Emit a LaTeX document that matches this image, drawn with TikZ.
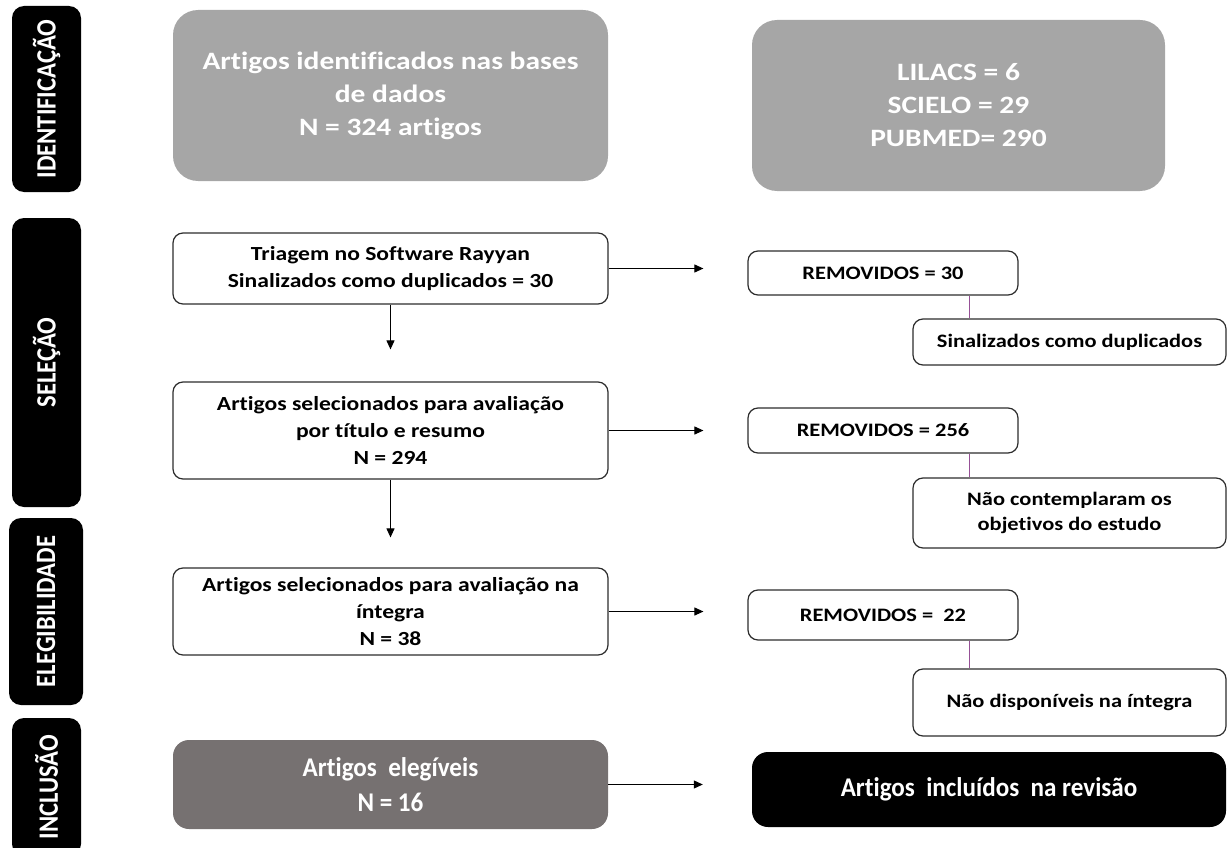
\documentclass[tikz,border=0pt]{standalone}
\usepackage{fontspec}
\newfontfamily\boxfont{Carlito}[FakeStretch=1.18, Ligatures=NoCommon]
\newfontfamily\barfont{Carlito}[FakeStretch=0.88, Ligatures=NoCommon]
\newfontfamily\endfont{Carlito}[FakeStretch=0.93, Ligatures=NoCommon]
\usepackage{tikz}
\usetikzlibrary{calc, arrows.meta}
\usepackage{xcolor}
\definecolor{idgrey}{RGB}{166,166,166}
\definecolor{elgrey}{RGB}{118,113,113}
\definecolor{linkpurple}{RGB}{150,80,150}
\definecolor{edgegrey}{RGB}{45,45,45}

\begin{document}
\begin{tikzpicture}[x=1pt, y=-1pt,
    phase/.style={fill=black, rounded corners=12pt, text=white, rotate=90, inner sep=0pt,
      font=\barfont\bfseries\fontsize{28}{30}\selectfont},
    greybox/.style={fill=idgrey, rounded corners=25pt, text=white, align=center, inner sep=0pt,
      font=\boxfont\bfseries\fontsize{25}{33}\selectfont},
    flowbox/.style={draw=edgegrey, line width=1.2pt, rounded corners=10pt, fill=white, align=center,
      inner sep=0pt, minimum width=435pt, font=\boxfont\bfseries\fontsize{20}{27}\selectfont},
    sidebox/.style={flowbox, minimum width=270pt, font=\boxfont\bfseries\fontsize{19}{25}\selectfont},
    endbox/.style={rounded corners=16pt, text=white, align=center, inner sep=0pt,
      font=\endfont\bfseries\fontsize{27}{35}\selectfont},
    flowarrow/.style={-{Triangle[length=9pt, width=8pt]}, line width=1pt},
    linkline/.style={linkpurple, line width=0.9pt}]
  \useasboundingbox (0,0) rectangle (1229,848);
  % phases
  \node[phase, minimum width=186pt, minimum height=69pt] (phid) at (46.5,99) {IDENTIFICAÇÃO};
  \node[phase, minimum width=289pt, minimum height=69pt] (phsel) at (46.5,362.5) {SELEÇÃO};
  \node[phase, minimum width=187pt, minimum height=74pt] (phel) at (46,611.5) {ELEGIBILIDADE};
  \node[phase, minimum width=138pt, minimum height=69pt] (phinc) at (46.5,787) {INCLUSÃO};
  % identification
  \node[greybox, minimum width=435pt, minimum height=171pt] (found) at (390.5,95.5)
    {Artigos identificados nas bases\\de dados\\N = 324 artigos};
  \node[greybox, minimum width=413pt, minimum height=171pt] (bases) at (958.5,105.5)
    {LILACS = 6\\SCIELO = 29\\PUBMED= 290};
  % selection and eligibility
  \node[flowbox, minimum height=71pt] (triagem) at (390.5,268.5)
    {Triagem no Software Rayyan\\Sinalizados como duplicados = 30};
  \node[flowbox, minimum height=97pt] (titulo) at (390.5,430.5)
    {Artigos selecionados para avaliação\\por título e resumo\\N = 294};
  \node[flowbox, minimum height=87pt] (integra) at (390.5,611.5)
    {Artigos selecionados para avaliação na\\íntegra\\N = 38};
  % removed
  \node[sidebox, minimum height=44pt] (rem30) at (883,273) {REMOVIDOS = 30};
  \node[sidebox, minimum width=313pt, minimum height=46pt] (dup) at (1069.5,342) {Sinalizados como duplicados};
  \node[sidebox, minimum height=45pt] (rem256) at (883,430.5) {REMOVIDOS = 256};
  \node[sidebox, minimum width=313pt, minimum height=70pt] (obj) at (1069.5,513)
    {Não contemplaram os\\objetivos do estudo};
  \node[sidebox, minimum height=50pt] (rem22) at (883,615) {REMOVIDOS =\ \ 22};
  \node[sidebox, minimum width=313pt, minimum height=67pt] (disp) at (1069.5,702.5) {Não disponíveis na íntegra};
  % inclusion
  \node[endbox, fill=elgrey, minimum width=435pt, minimum height=89pt] (elig) at (390.5,784.5)
    {Artigos\ \ elegíveis\\N = 16};
  \node[endbox, fill=black, minimum width=474pt, minimum height=75pt] (incl) at (989,789.5)
    {Artigos\ \ incluídos\ \ na revisão};
  % arrows
  \draw[flowarrow, shorten >=32pt] (triagem) -- (titulo);
  \draw[flowarrow, shorten >=30pt] (titulo) -- (integra);
  \draw[flowarrow, shorten >=44pt] (triagem.east) -- (triagem.east -| rem30.west);
  \draw[flowarrow, shorten >=44pt] (titulo.east) -- (titulo.east -| rem256.west);
  \draw[flowarrow, shorten >=44pt] (integra.east) -- (integra.east -| rem22.west);
  \draw[flowarrow, shorten >=49pt] (elig.east) -- (elig.east -| incl.west);
  % links to reasons
  \coordinate (dupx) at ($(dup.north west)+(57,0)$);
  \coordinate (objx) at ($(obj.north west)+(57,0)$);
  \coordinate (dispx) at ($(disp.north west)+(57,0)$);
  \draw[linkline] (dupx |- rem30.south) -- (dupx);
  \draw[linkline] (objx |- rem256.south) -- (objx);
  \draw[linkline] (dispx |- rem22.south) -- (dispx);
\end{tikzpicture}
\end{document}
